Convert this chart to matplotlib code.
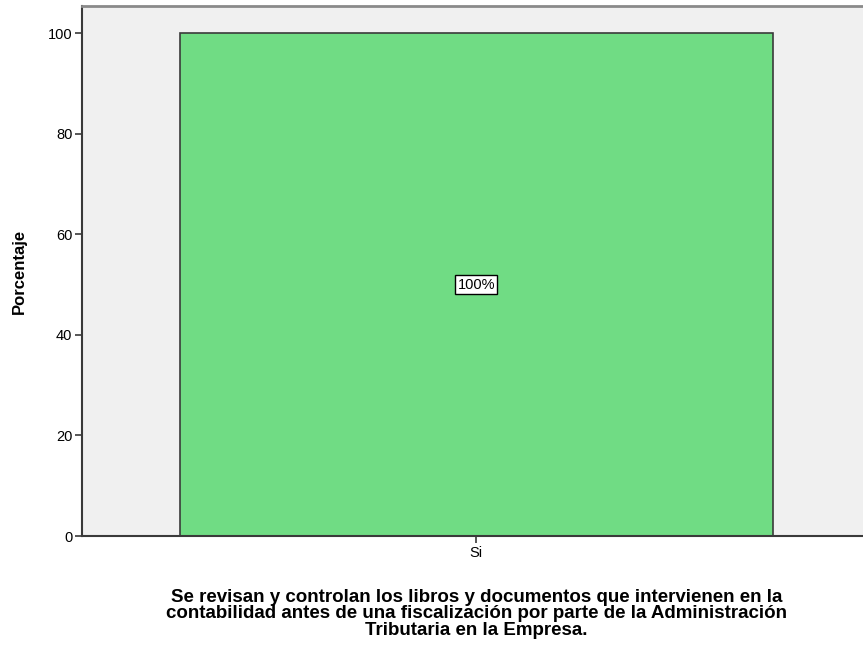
import matplotlib.pyplot as plt
import numpy as np

categories = ["Si"]
percentages = [100]
labels = ["100%"]

plt.rcParams['font.family'] = ['Liberation Sans', 'DejaVu Sans']

fig = plt.figure(figsize=(8.63, 6.54), dpi=100)
ax = fig.add_axes([0.095, 0.1804, 0.914, 0.8104])
ax.set_facecolor("#f0f0f0")

x = np.arange(len(categories))
bars = ax.bar(x, percentages, width=0.7516, color="#70dc84",
              edgecolor="#3a3a3a", linewidth=1.2, zorder=2)

for b, lab in zip(bars, labels):
    ax.text(b.get_x() + b.get_width() / 2, b.get_height() / 2, lab,
            ha="center", va="center", fontsize=10.5,
            bbox=dict(boxstyle="square,pad=0.15", fc="white", ec="black", lw=1), zorder=3)

ax.set_xlim(-0.5, 0.5)
ax.set_ylim(0, 105.4)
ax.set_yticks([0, 20, 40, 60, 80, 100])
ax.set_xticks(x)
ax.set_xticklabels(categories)
ax.tick_params(axis="both", labelsize=10.5, color="#3a3a3a", length=5, width=1.2, pad=2)

for s in ["left", "bottom"]:
    ax.spines[s].set_color("#3a3a3a")
    ax.spines[s].set_linewidth(1.5)
ax.spines["top"].set_color("#8a8a8a")
ax.spines["top"].set_linewidth(2)
ax.spines["right"].set_visible(False)

ax.set_ylabel("Porcentaje", fontsize=12, fontweight="bold", labelpad=15)
ax.set_xlabel("Se revisan y controlan los libros y documentos que intervienen en la\n"
              "contabilidad antes de una fiscalización por parte de la Administración\n"
              "Tributaria en la Empresa.",
              fontsize=13.5, fontweight="bold", labelpad=21, linespacing=0.96)

plt.savefig("out.png", dpi=100)
